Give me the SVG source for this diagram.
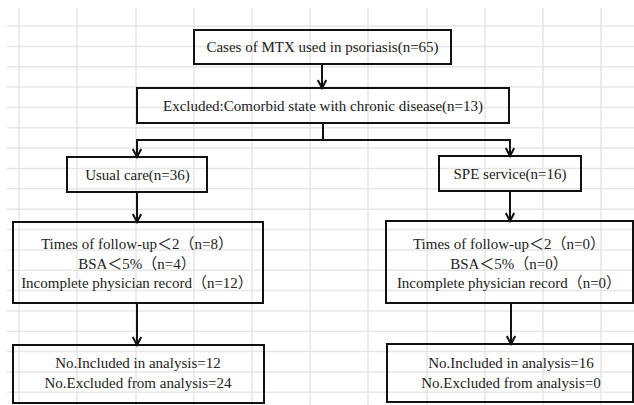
<svg xmlns="http://www.w3.org/2000/svg" width="634" height="405" viewBox="0 0 634 405">
<defs>
<style>
.grid line{stroke:#e6e6e6;stroke-width:1.5}
.box{fill:none;stroke:#111;stroke-width:2}
.conn path{fill:none;stroke:#111;stroke-width:2}
text{font-family:"Liberation Serif","Noto Sans CJK SC",serif;font-size:15px;fill:#222;text-anchor:middle}
</style>
<marker id="ah" viewBox="0 0 12 10" markerWidth="12" markerHeight="10" refX="10" refY="5" orient="auto" markerUnits="userSpaceOnUse">
<path d="M2,0.8 L10,5 L2,9.2" fill="none" stroke="#111" stroke-width="2"/>
</marker>
</defs>
<rect width="634" height="405" fill="#fff"/>
<g class="grid">
<line x1="19" y1="8" x2="19" y2="405"/>
<line x1="77" y1="8" x2="77" y2="405"/>
<line x1="136" y1="8" x2="136" y2="405"/>
<line x1="194" y1="8" x2="194" y2="405"/>
<line x1="252" y1="8" x2="252" y2="405"/>
<line x1="310" y1="8" x2="310" y2="405"/>
<line x1="368" y1="8" x2="368" y2="405"/>
<line x1="427" y1="8" x2="427" y2="405"/>
<line x1="485" y1="8" x2="485" y2="405"/>
<line x1="543" y1="8" x2="543" y2="405"/>
<line x1="601" y1="8" x2="601" y2="405"/>
<line x1="7" y1="26" x2="634" y2="26"/>
<line x1="7" y1="46.4" x2="634" y2="46.4"/>
<line x1="7" y1="66.7" x2="634" y2="66.7"/>
<line x1="7" y1="87.1" x2="634" y2="87.1"/>
<line x1="7" y1="107.4" x2="634" y2="107.4"/>
<line x1="7" y1="127.8" x2="634" y2="127.8"/>
<line x1="7" y1="148.1" x2="634" y2="148.1"/>
<line x1="7" y1="168.5" x2="634" y2="168.5"/>
<line x1="7" y1="188.8" x2="634" y2="188.8"/>
<line x1="7" y1="209.2" x2="634" y2="209.2"/>
<line x1="7" y1="229.5" x2="634" y2="229.5"/>
<line x1="7" y1="249.9" x2="634" y2="249.9"/>
<line x1="7" y1="270.2" x2="634" y2="270.2"/>
<line x1="7" y1="290.6" x2="634" y2="290.6"/>
<line x1="7" y1="310.9" x2="634" y2="310.9"/>
<line x1="7" y1="331.3" x2="634" y2="331.3"/>
<line x1="7" y1="351.6" x2="634" y2="351.6"/>
<line x1="7" y1="372" x2="634" y2="372"/>
<line x1="7" y1="392.3" x2="634" y2="392.3"/>
</g>
<g class="conn">
<path d="M322,64 V88" marker-end="url(#ah)"/>
<path d="M323,123 V140"/>
<path d="M136,140 H511"/>
<path d="M137,140 V157" marker-end="url(#ah)"/>
<path d="M510,140 V156" marker-end="url(#ah)"/>
<path d="M137,192 V222" marker-end="url(#ah)"/>
<path d="M510,191 V221" marker-end="url(#ah)"/>
<path d="M137,303 V345" marker-end="url(#ah)"/>
<path d="M511,303 V344" marker-end="url(#ah)"/>
</g>
<g id="n-cases">
<rect class="box" x="194" y="30" width="257" height="34"/>
<text x="322.5" y="52">Cases of MTX used in psoriasis(n=65)</text>
</g>
<g id="n-excluded">
<rect class="box" x="137" y="88" width="372" height="35"/>
<text x="323" y="110.5">Excluded:Comorbid state with chronic disease(n=13)</text>
</g>
<g id="n-usual">
<rect class="box" x="67" y="157" width="140" height="35"/>
<text x="137.5" y="180">Usual care(n=36)</text>
</g>
<g id="n-spe">
<rect class="box" x="439" y="156" width="142" height="35"/>
<text x="510" y="178.5">SPE service(n=16)</text>
</g>
<g id="n-crit-left">
<rect class="box" x="13" y="222" width="250" height="81"/>
<text x="137" y="249">Times of follow-up＜2（n=8）</text>
<text x="137" y="269">BSA＜5%（n=4）</text>
<text x="137" y="288">Incomplete physician record（n=12）</text>
</g>
<g id="n-crit-right">
<rect class="box" x="386" y="221" width="247" height="82"/>
<text x="509" y="249">Times of follow-up＜2（n=0）</text>
<text x="509" y="269">BSA＜5%（n=0）</text>
<text x="509" y="288">Incomplete physician record（n=0）</text>
</g>
<g id="n-result-left">
<rect class="box" x="13" y="345" width="251" height="58"/>
<text x="138" y="368">No.Included in analysis=12</text>
<text x="138" y="388">No.Excluded from analysis=24</text>
</g>
<g id="n-result-right">
<rect class="box" x="387" y="344" width="246" height="58"/>
<text x="511" y="368">No.Included in analysis=16</text>
<text x="511" y="388">No.Excluded from analysis=0</text>
</g>
</svg>
